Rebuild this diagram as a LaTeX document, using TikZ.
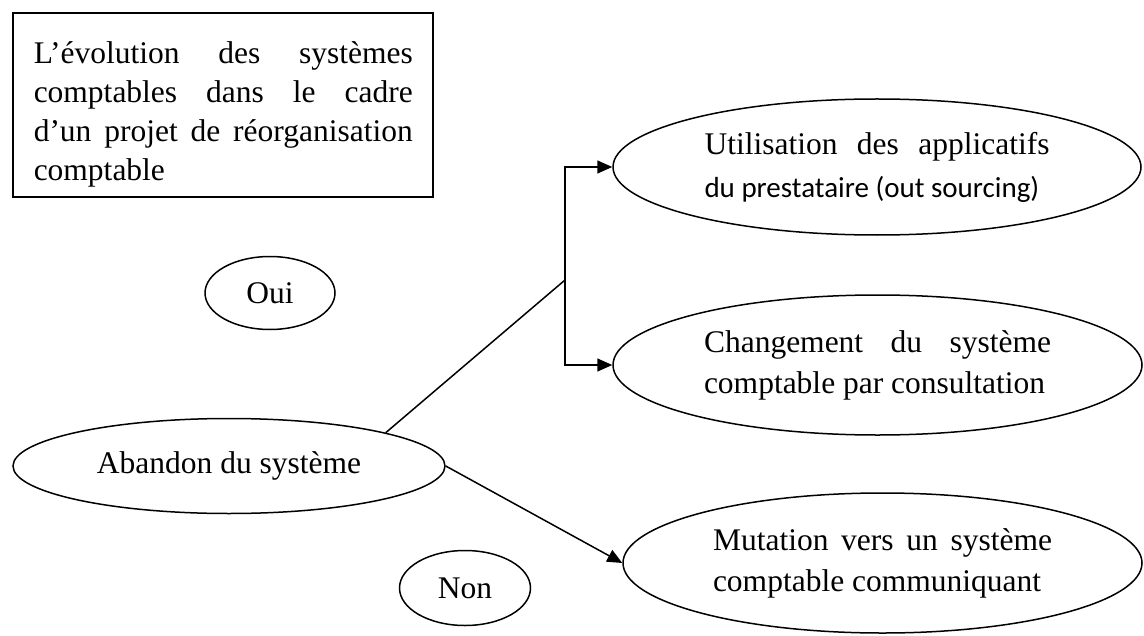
\documentclass[tikz,border=0pt]{standalone}
\usepackage{fontspec}
\setmainfont{Liberation Serif}
\newfontfamily\carlito{Carlito}
\usetikzlibrary{shapes.geometric,arrows.meta}
\begin{document}
\begin{tikzpicture}[x=0.5pt,y=-0.5pt,
  line width=0.75pt,
  txt/.style={font=\fontsize{15.75pt}{20.5pt}\selectfont},
  oval/.style={draw, ellipse, inner sep=0pt, line width=0.75pt, align=left, txt},
  conn/.style={line width=0.75pt, -{Triangle[length=7.5pt,width=6.5pt]}},
]
\useasboundingbox (0,0) rectangle (1144,636);

% title box
\node[draw, rectangle, minimum width=210pt, minimum height=92pt, inner sep=0pt] (titlebox) at (223,105) {};
\node[anchor=north west, inner sep=0pt, align=left,
      font=\fontsize{15.75pt}{19.5pt}\selectfont] (titletext) at (33,41)
  {\makebox[189.5pt][s]{L’évolution des systèmes}\\
   \makebox[189.5pt][s]{comptables dans le cadre}\\
   \makebox[189.5pt][s]{d’un projet de réorganisation}\\
   comptable};

% small ovals
\node[oval, minimum width=65pt, minimum height=36.5pt] (oui) at (270,293) {Oui};
\node[oval, minimum width=65.5pt, minimum height=37.5pt] (non) at (465,588) {Non};

% left oval
\node[oval, minimum width=216pt, minimum height=47.5pt] (abandon) at (229,466) {Abandon du système};

% right ovals
\node[oval, minimum width=264pt, minimum height=68pt] (util) at (877,167)
  {\makebox[172.5pt][s]{Utilisation des applicatifs}\\[1pt]
   {\carlito\fontsize{14.5pt}{20pt}\selectfont du prestataire (out sourcing)}};
\node[oval, minimum width=264.5pt, minimum height=70pt] (chang) at (877.5,365)
  {\makebox[173.5pt][s]{Changement du système}\\
   comptable par consultation};
\node[oval, minimum width=259.5pt, minimum height=70pt] (mutation) at (882.5,563)
  {\makebox[169.5pt][s]{Mutation vers un système}\\
   comptable communiquant};

% connectors
\coordinate (split) at (565,280);
\draw (abandon.12) -- (split);
\draw[conn] (split) |- (util.west);
\draw[conn] (split) |- (chang.west);
\draw[conn] (abandon.east) -- (mutation.west);
\end{tikzpicture}
\end{document}
